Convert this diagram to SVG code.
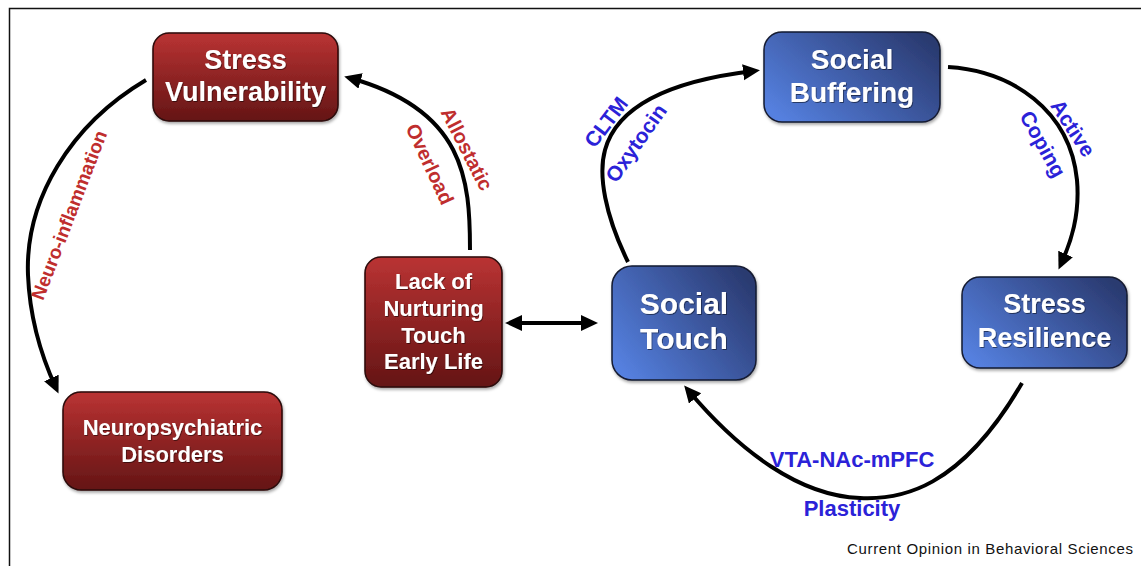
<svg xmlns="http://www.w3.org/2000/svg" width="1141" height="566" viewBox="0 0 1141 566">
<style>
.nt{font-family:"Liberation Sans",Arial,sans-serif;font-weight:bold;fill:#fff;text-anchor:middle;filter:url(#ts)}
.lr{font-family:"Liberation Sans",Arial,sans-serif;font-weight:bold;fill:#bf2e2e;text-anchor:middle}
.lb{font-family:"Liberation Sans",Arial,sans-serif;font-weight:bold;fill:#2b22d8;text-anchor:middle}
.red{fill:url(#rg);stroke:#2a0808;stroke-width:1.5;filter:url(#sh)}
.blue{fill:url(#bg);stroke:#141a30;stroke-width:1.5;filter:url(#sh)}
.c{fill:none;stroke:#000;stroke-width:4}
</style>
<defs>
<linearGradient id="rg" x1="0" y1="0" x2="0" y2="1"><stop offset="0" stop-color="#ba3333"/><stop offset="1" stop-color="#641515"/></linearGradient>
<linearGradient id="bg" x1="0" y1="0.8" x2="1" y2="0.2"><stop offset="0" stop-color="#5580df"/><stop offset="1" stop-color="#2a3a70"/></linearGradient>
<filter id="sh" x="-10%" y="-10%" width="125%" height="130%"><feDropShadow dx="1" dy="2" stdDeviation="1.5" flood-color="#000" flood-opacity="0.35"/></filter>
<filter id="ts" x="-10%" y="-20%" width="120%" height="150%"><feDropShadow dx="0.8" dy="1" stdDeviation="0.7" flood-color="#000" flood-opacity="0.5"/></filter>
<marker id="ah" markerUnits="userSpaceOnUse" markerWidth="20" markerHeight="18" viewBox="0 0 20 18" refX="11" refY="8" orient="auto-start-reverse"><path d="M0,0 L17,8 L0,16 z" fill="#000"/></marker>
</defs>
<rect width="1141" height="566" fill="#fff"/>
<path d="M9.5,566 V8.5 H1141" fill="none" stroke="#111" stroke-width="1.5"/>
<g id="connectors">
<path class="c" d="M146,80 C70,125 25,200 28,275 C30,325 44,362 56,388" marker-end="url(#ah)"/>
<path class="c" d="M470,250 C470,180 465,110 350,78" marker-end="url(#ah)"/>
<path class="c" d="M511,323 H592" marker-start="url(#ah)" marker-end="url(#ah)"/>
<path class="c" d="M628,262 C605,215 598,175 605,150 C616,110 660,82 754,71" marker-end="url(#ah)"/>
<path class="c" d="M948,67 C1012,71 1070,110 1077,180 C1080,215 1071,242 1061,264" marker-end="url(#ah)"/>
<path class="c" d="M1022,383 C960,490 900,500 860,498 C800,496 740,452 688,390" marker-end="url(#ah)"/>
</g>
<g id="labels">
<text class="lr" font-size="19" transform="translate(69,215) rotate(-69)" dy="0.35em">Neuro-inflammation</text>
<text class="lr" font-size="20" transform="translate(467,149) rotate(63)" dy="0.35em">Allostatic</text>
<text class="lr" font-size="20" transform="translate(430,164) rotate(65)" dy="0.35em">Overload</text>
<text class="lb" font-size="21" transform="translate(606,122) rotate(-53)" dy="0.35em">CLTM</text>
<text class="lb" font-size="21" transform="translate(636,143) rotate(-55)" dy="0.35em">Oxytocin</text>
<text class="lb" font-size="21" transform="translate(1073,128) rotate(57)" dy="0.35em">Active</text>
<text class="lb" font-size="21" transform="translate(1043,144) rotate(61)" dy="0.35em">Coping</text>
<text class="lb" font-size="22" x="852" y="467">VTA-NAc-mPFC</text>
<text class="lb" font-size="22" x="852" y="516">Plasticity</text>
</g>
<g id="stress-vulnerability">
<rect class="red" x="153" y="33" width="185" height="88" rx="16"/>
<text class="nt" font-size="27" x="245.5" y="69">Stress</text>
<text class="nt" font-size="27" x="245.5" y="101">Vulnerability</text>
</g>
<g id="neuropsychiatric-disorders">
<rect class="red" x="63" y="392" width="219" height="98" rx="18"/>
<text class="nt" font-size="22" x="172.5" y="435">Neuropsychiatric</text>
<text class="nt" font-size="22" x="172.5" y="462">Disorders</text>
</g>
<g id="lack-of-nurturing-touch">
<rect class="red" x="365" y="257" width="137" height="130" rx="16"/>
<text class="nt" font-size="22" x="433.5" y="289">Lack of</text>
<text class="nt" font-size="22" x="433.5" y="316">Nurturing</text>
<text class="nt" font-size="22" x="433.5" y="343">Touch</text>
<text class="nt" font-size="22" x="433.5" y="369">Early Life</text>
</g>
<g id="social-buffering">
<rect class="blue" x="764" y="32" width="176" height="90" rx="18"/>
<text class="nt" font-size="28" x="852" y="69">Social</text>
<text class="nt" font-size="28" x="852" y="102">Buffering</text>
</g>
<g id="social-touch">
<rect class="blue" x="612" y="266" width="144" height="114" rx="20"/>
<text class="nt" font-size="30" x="684" y="314">Social</text>
<text class="nt" font-size="30" x="684" y="349">Touch</text>
</g>
<g id="stress-resilience">
<rect class="blue" x="962" y="277" width="165" height="91" rx="18"/>
<text class="nt" font-size="27" x="1044.5" y="313">Stress</text>
<text class="nt" font-size="27" x="1044.5" y="347">Resilience</text>
</g>
<text x="847" y="554" font-family="Liberation Sans,Arial,sans-serif" font-size="15" fill="#111" textLength="286">Current Opinion in Behavioral Sciences</text>
</svg>
